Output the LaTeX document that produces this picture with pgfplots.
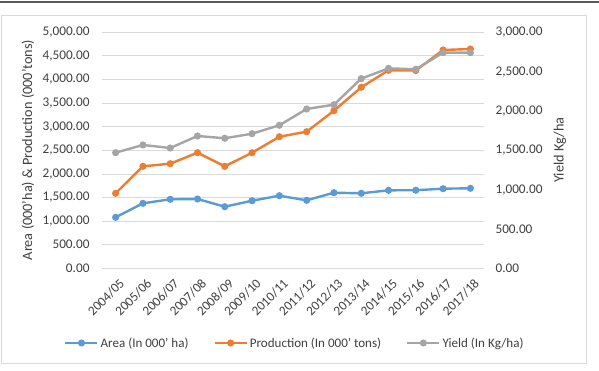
\documentclass[border=0pt]{standalone}
\usepackage{fontspec}
\setmainfont{Carlito}
\usepackage{pgfplots}
\pgfplotsset{compat=1.18}

\definecolor{areaC}{HTML}{5B9BD5}
\definecolor{prodC}{HTML}{ED7D31}
\definecolor{yieldC}{HTML}{A5A5A5}
\definecolor{gridC}{HTML}{D9D9D9}
\definecolor{txtC}{HTML}{404040}

\pgfplotsset{
  base/.style={
    at={(102bp,101.7bp)}, anchor=south west,
    scale only axis, width=382bp, height=236bp,
    xmin=-0.5, xmax=13.5, ymin=0,
    axis line style={draw=none},
    tick style={draw=none},
    scaled y ticks=false,
    tick label style={font=\fontsize{13.3}{15}\selectfont, text=txtC},
    /pgf/number format/fixed,
    /pgf/number format/fixed zerofill,
    /pgf/number format/precision=2,
    /pgf/number format/1000 sep={,},
    /pgf/number format/assume math mode=true,
  },
  ser/.style={color=#1, line width=2.4bp, mark=*,
    mark options={solid, fill=#1, draw=#1, scale=1.15}},
}

\begin{document}
\begin{tikzpicture}[x=1bp,y=1bp]
\useasboundingbox (0,0) rectangle (599,370);
\fill[white] (0,0) rectangle (599,370);
\draw[black!65, line width=2bp] (0,368) -- (599,368);
\draw[gridC, line width=0.8bp] (1,7) rectangle (586,355);

\begin{axis}[base,
  ymax=5000, ytick={0,500,...,5000},
  ymajorgrids, major grid style={gridC, line width=0.8bp},
  xtick={0,...,13},
  xticklabels={2004/05,2005/06,2006/07,2007/08,2008/09,2009/10,2010/11,
    2011/12,2012/13,2013/14,2014/15,2015/16,2016/17,2017/18},
  x tick label style={yshift=-8bp, xshift=3bp, rotate=45, anchor=north east, inner sep=1bp},
  y tick label style={xshift=-9bp},
]
\addplot[ser=areaC] coordinates {
  (0,1080) (1,1377) (2,1462) (3,1468) (4,1305) (5,1432) (6,1538)
  (7,1440) (8,1602) (9,1589) (10,1652) (11,1654) (12,1687) (13,1695)};
\addplot[ser=prodC] coordinates {
  (0,1589) (1,2161) (2,2216) (3,2449) (4,2161) (5,2449) (6,2788)
  (7,2894) (8,3339) (9,3835) (10,4195) (11,4190) (12,4625) (13,4646)};
\end{axis}

\begin{axis}[base,
  ymax=3000, ytick={0,500,...,3000},
  xtick=\empty,
  yticklabel pos=right,
  y tick label style={xshift=8bp},
  legend columns=3,
  legend style={at={(0.505,-0.3165)}, anchor=center, draw=none, fill=none,
    font=\fontsize{13.1}{15}\selectfont, text=txtC,
    /tikz/every even column/.append style={column sep=23bp},
    inner sep=0pt},
  legend image code/.code={
    \draw[mark repeat=2, mark phase=2] plot coordinates {(0bp,0bp) (16bp,0bp) (32bp,0bp)};},
]
\addlegendimage{ser=areaC}
\addlegendentry{Area (In 000' ha)}
\addlegendimage{ser=prodC}
\addlegendentry{Production (In 000' tons)}
\addplot[ser=yieldC] coordinates {
  (0,1470) (1,1568) (2,1529) (3,1682) (4,1653) (5,1711) (6,1818)
  (7,2025) (8,2080) (9,2411) (10,2542) (11,2530) (12,2741) (13,2741)};
\addlegendentry{Yield (In Kg/ha)}
\end{axis}

\node[rotate=90, font=\fontsize{14.3}{16}\selectfont, text=txtC] at (28,220)
  {Area (000'ha) \& Production (000'tons)};
\node[rotate=90, font=\fontsize{14.3}{16}\selectfont, text=txtC] at (560,220)
  {Yield Kg/ha};
\end{tikzpicture}
\end{document}
